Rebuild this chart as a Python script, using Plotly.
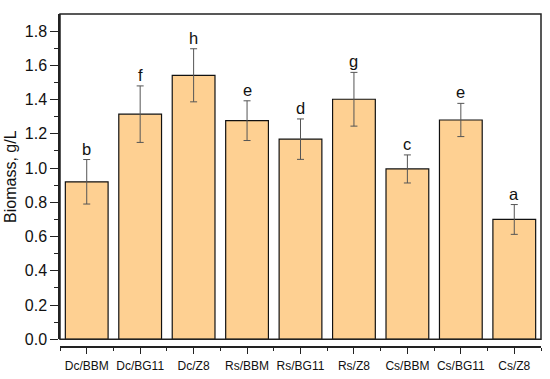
import plotly.graph_objects as go

categories = ["Dc/BBM", "Dc/BG11", "Dc/Z8", "Rs/BBM", "Rs/BG11", "Rs/Z8", "Cs/BBM", "Cs/BG11", "Cs/Z8"]
biomass = [0.92, 1.315, 1.542, 1.277, 1.169, 1.402, 0.995, 1.281, 0.70]
errors = [0.13, 0.165, 0.155, 0.116, 0.118, 0.157, 0.082, 0.097, 0.087]
letters = ["b", "f", "h", "e", "d", "g", "c", "e", "a"]

FONT = "Liberation Sans, Arial, sans-serif"
W, H = 550, 379
ml, mr, mt, mb = 60, 9, 14, 32
plot_h = H - mt - mb
frame_bottom_px = 339.3
ydom0 = (H - mb - frame_bottom_px) / plot_h

xs = list(range(len(categories)))

fig = go.Figure()
fig.add_trace(go.Bar(
    x=xs, y=biomass, width=0.8,
    marker=dict(color="#FED092", line=dict(color="#111111", width=1.2)),
    error_y=dict(type="data", array=errors, visible=True, color="#555555",
                 thickness=1, width=3.5),
    showlegend=False,
))

for xi, v, e, t in zip(xs, biomass, errors, letters):
    fig.add_annotation(x=xi, y=v + e, text=t, showarrow=False,
                       xref="x", yref="y", yanchor="bottom", yshift=0,
                       font=dict(family=FONT, size=16.5, color="#111111"))

fig.add_shape(type="rect", xref="x domain", yref="y domain",
              x0=0, x1=1, y0=0, y1=1, line=dict(color="#222222", width=1.5),
              fillcolor="rgba(0,0,0,0)", layer="above")

fig.update_layout(
    width=W, height=H,
    margin=dict(l=ml, r=mr, t=mt, b=mb, autoexpand=False),
    paper_bgcolor="white", plot_bgcolor="white",
    font=dict(family=FONT, color="#111111"),
    bargap=0.2,
    xaxis=dict(
        range=[-0.5, 8.5], tickmode="array", tickvals=xs, ticktext=categories,
        anchor="free", position=0, showline=True, linecolor="#222222", linewidth=1.5,
        ticks="outside", ticklen=6, tickwidth=1.2, tickcolor="#222222",
        minor=dict(tickmode="array", tickvals=[i - 0.5 for i in range(len(categories) + 1)],
                   ticks="outside", ticklen=3, tickwidth=1.2, tickcolor="#222222"),
        tickfont=dict(family=FONT, size=12, color="#111111"),
        ticklabelstandoff=2, automargin=False,
        showgrid=False, zeroline=False,
    ),
    yaxis=dict(
        domain=[ydom0, 1], range=[0, 1.9], automargin=False,
        tickmode="array", tickvals=[0, 0.2, 0.4, 0.6, 0.8, 1.0, 1.2, 1.4, 1.6, 1.8],
        tickformat=".1f",
        showline=True, linecolor="#222222", linewidth=1.5,
        ticks="outside", ticklen=8, tickwidth=1.2, tickcolor="#222222",
        minor=dict(tickmode="array", tickvals=[0.1, 0.3, 0.5, 0.7, 0.9, 1.1, 1.3, 1.5, 1.7],
                   ticks="outside", ticklen=4, tickwidth=1.2, tickcolor="#222222"),
        tickfont=dict(family=FONT, size=16, color="#111111"),
        title=dict(text="Biomass, g/L", font=dict(family=FONT, size=16, color="#111111"), standoff=4),
        showgrid=False, zeroline=False,
    ),
)

fig.write_html("out.html", config={"displayModeBar": False},
               post_script="document.body.style.margin='0';")
